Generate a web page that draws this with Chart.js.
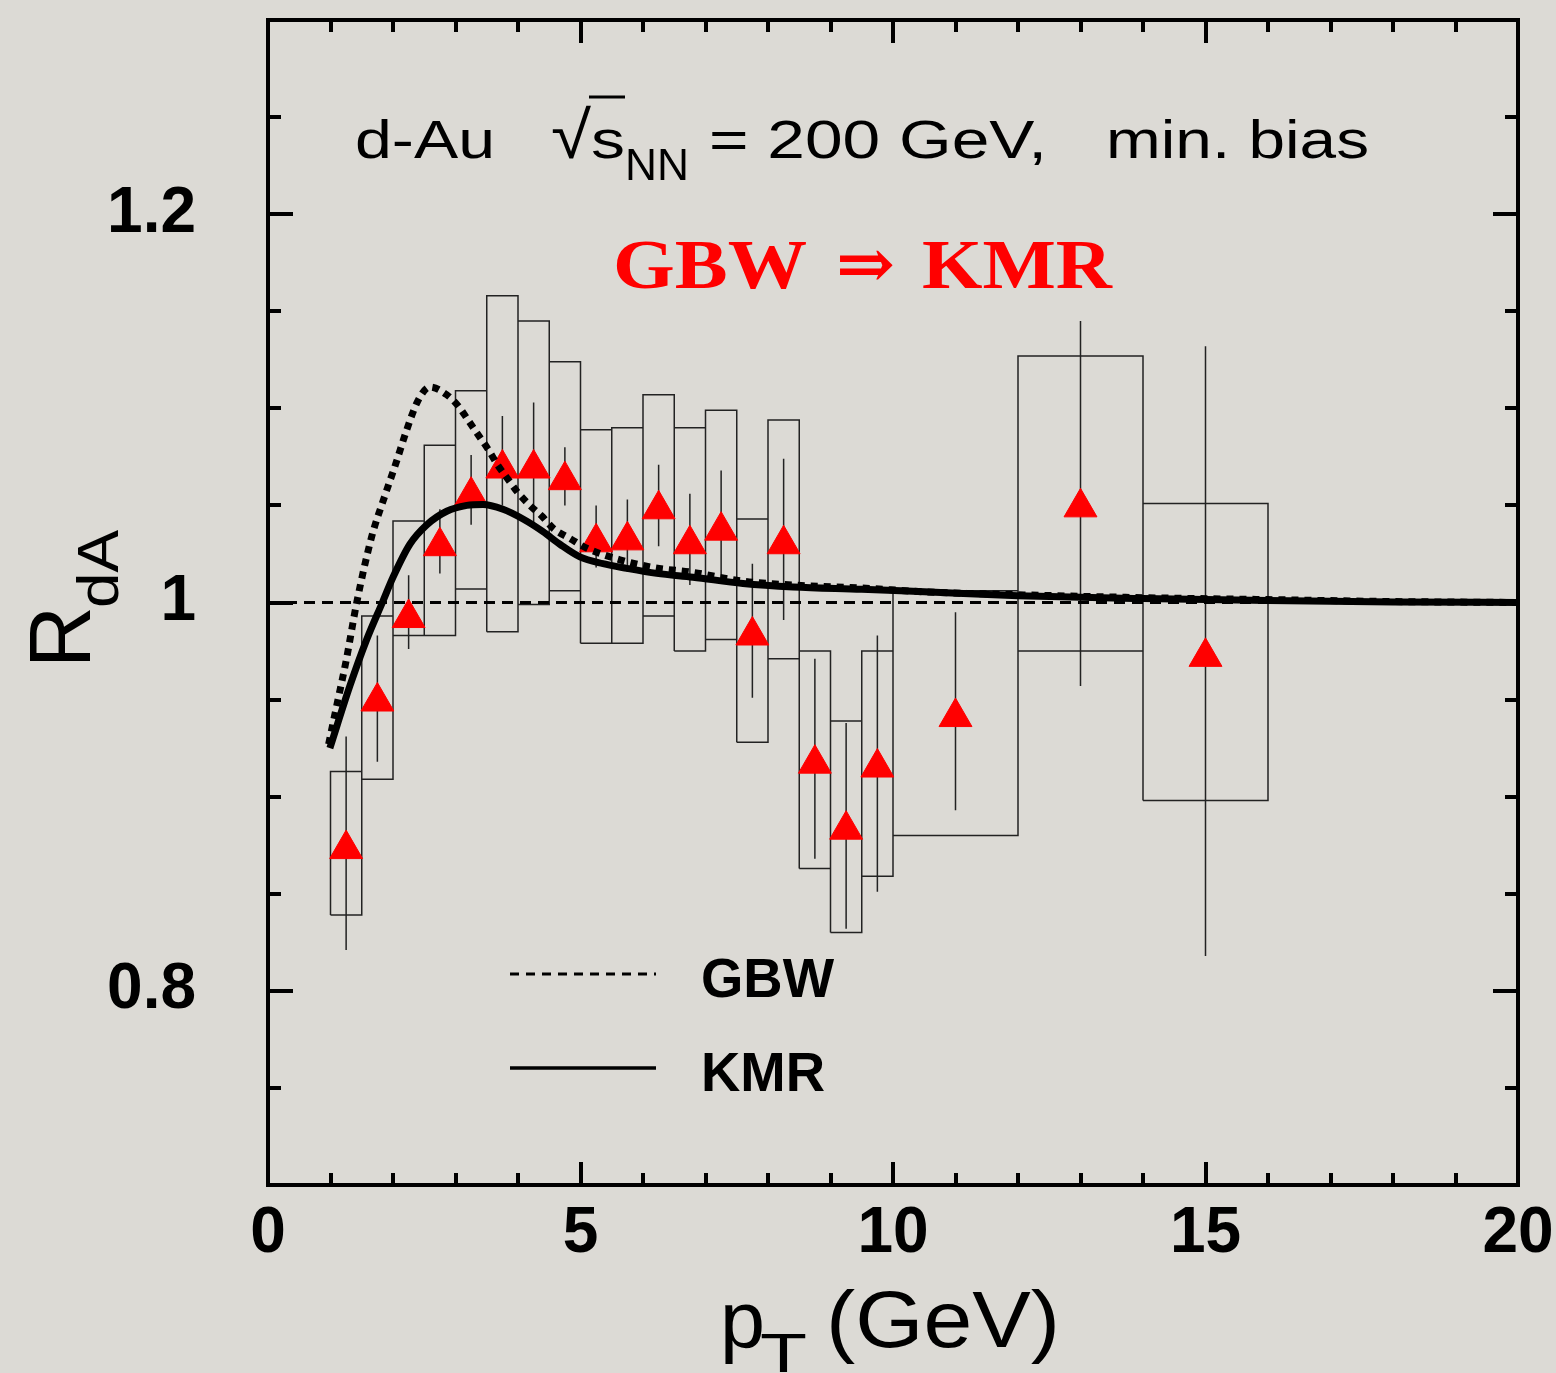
<!DOCTYPE html>
<html>
<head>
<meta charset="utf-8">
<title>RdA d-Au GBW / KMR</title>
<script src="https://cdn.jsdelivr.net/npm/chart.js@4.4.1/dist/chart.umd.min.js"></script>
<style>
  html, body { margin: 0; padding: 0; background: #dcdad5; }
  #wrap { width: 1556px; height: 1373px; }
</style>
</head>
<body>
<div id="wrap"><canvas id="rdaChart" width="1556" height="1373"></canvas></div>
<script>
// * data
const ptCenters = [1.25, 1.75, 2.25, 2.75, 3.25, 3.75, 4.25, 4.75, 5.25, 5.75, 6.25, 6.75, 7.25, 7.75, 8.25, 8.75, 9.25, 9.75, 11, 13, 15];
const binLo = [1.0, 1.5, 2.0, 2.5, 3.0, 3.5, 4.0, 4.5, 5.0, 5.5, 6.0, 6.5, 7.0, 7.5, 8.0, 8.5, 9.0, 9.5, 10, 12, 14];
const binHi = [1.5, 2.0, 2.5, 3.0, 3.5, 4.0, 4.5, 5.0, 5.5, 6.0, 6.5, 7.0, 7.5, 8.0, 8.5, 9.0, 9.5, 10, 12, 14, 16];
const rdA = [0.873, 0.949, 0.992, 1.029, 1.055, 1.069, 1.069, 1.063, 1.031, 1.032, 1.048, 1.030, 1.037, 0.983, 1.030, 0.917, 0.883, 0.915, 0.941, 1.049, 0.972];
const statLo = [0.821, 0.918, 0.976, 1.015, 1.040, 1.050, 1.041, 1.050, 1.018, 1.016, 1.029, 1.009, 1.013, 0.951, 0.991, 0.868, 0.832, 0.851, 0.893, 0.957, 0.818];
const statHi = [0.931, 0.983, 1.014, 1.048, 1.076, 1.096, 1.103, 1.080, 1.050, 1.053, 1.071, 1.056, 1.068, 1.020, 1.074, 0.971, 0.938, 0.983, 0.995, 1.145, 1.132];
const sysLo = [0.839, 0.909, 0.983, 0.983, 1.007, 0.985, 0.999, 1.006, 0.979, 0.979, 0.993, 0.975, 0.981, 0.928, 0.971, 0.863, 0.830, 0.859, 0.880, 0.975, 0.898];
const sysHi = [0.913, 0.993, 1.042, 1.081, 1.109, 1.158, 1.145, 1.124, 1.089, 1.090, 1.107, 1.090, 1.099, 1.043, 1.094, 0.975, 0.939, 0.975, 1.006, 1.127, 1.051];

// * model curves
const gbwPt = [0.97, 1.1, 1.25, 1.42, 1.66, 1.87, 2.05, 2.21, 2.4, 2.59, 2.86, 3.05, 3.2, 3.37, 3.52, 3.67, 3.85, 4.0, 4.19, 4.38, 4.57, 4.83, 5.1, 5.63, 6.17, 6.8, 7.6, 8.4, 9.5, 10.5, 12, 14, 16, 18, 20];
const gbwR = [0.927, 0.947, 0.970, 1.0, 1.034, 1.055, 1.072, 1.088, 1.104, 1.111, 1.107, 1.101, 1.094, 1.086, 1.079, 1.071, 1.063, 1.0565, 1.050, 1.0445, 1.038, 1.033, 1.028, 1.022, 1.018, 1.0155, 1.011, 1.009, 1.0075, 1.0055, 1.004, 1.0025, 1.0015, 1.0005, 1.0];
const kmrPt = [0.99, 1.31, 1.58, 1.83, 2.0, 2.27, 2.54, 2.86, 3.18, 3.44, 3.76, 4.08, 4.4, 4.67, 4.99, 5.36, 5.74, 6.22, 6.8, 7.6, 8.4, 9.5, 10.5, 12, 14, 16, 18, 20];
const kmrR = [0.925, 0.957, 0.981, 1.0, 1.013, 1.030, 1.040, 1.047, 1.050, 1.0505, 1.048, 1.043, 1.0365, 1.030, 1.0235, 1.020, 1.0176, 1.015, 1.013, 1.0098, 1.008, 1.0068, 1.0055, 1.0035, 1.002, 1.001, 1.0003, 1.0];

const refLine = [1, 1];
const xTickLabels = [0, 5, 10, 15, 20];
const yTickLabels = [0.8, 1, 1.2];

window.addEventListener("DOMContentLoaded", () => {
  const SANS = '"Liberation Sans", Arial, sans-serif';
  const SERIF = '"Liberation Serif", "DejaVu Serif", serif';

  // boxes (systematics) as closed outlines, broken by nulls
  const boxPoints = [];
  ptCenters.forEach((_, i) => {
    boxPoints.push(
      { x: binLo[i], y: sysLo[i] },
      { x: binLo[i], y: sysHi[i] },
      { x: binHi[i], y: sysHi[i] },
      { x: binHi[i], y: sysLo[i] },
      { x: binLo[i], y: sysLo[i] },
      { x: binLo[i], y: null }
    );
  });

  // statistical error bars
  const barPoints = [];
  ptCenters.forEach((x, i) => {
    barPoints.push({ x: x, y: statLo[i] }, { x: x, y: statHi[i] }, { x: x, y: null });
  });

  const points = ptCenters.map((x, i) => ({ x: x, y: rdA[i] }));
  const gbw = gbwPt.map((x, i) => ({ x: x, y: gbwR[i] }));
  const kmr = kmrPt.map((x, i) => ({ x: x, y: kmrR[i] }));
  const ref = [{ x: 0, y: refLine[0] }, { x: 20, y: refLine[1] }];

  // helper: draw text squeezed/stretched to a given width
  function fitText(ctx, txt, left, baseline, width, font, color) {
    ctx.save();
    ctx.font = font;
    ctx.fillStyle = color || "#000";
    ctx.textAlign = "left";
    ctx.textBaseline = "alphabetic";
    const w = ctx.measureText(txt).width;
    ctx.translate(left, baseline);
    ctx.scale(width / w, 1);
    ctx.fillText(txt, 0, 0);
    ctx.restore();
  }

  const decor = {
    id: "decor",
    beforeDraw(chart) {
      const ctx = chart.ctx;
      ctx.save();
      ctx.fillStyle = "#dcdad5";
      ctx.fillRect(0, 0, chart.width, chart.height);
      ctx.restore();
    },
    afterDraw(chart) {
      const ctx = chart.ctx;
      const a = chart.chartArea;
      const xs = chart.scales.x;
      const ys = chart.scales.y;

      // * frame
      ctx.save();
      ctx.strokeStyle = "#000";
      ctx.lineWidth = 4;
      ctx.strokeRect(a.left, a.top, a.right - a.left, a.bottom - a.top);

      // * inward ticks on all four sides
      ctx.beginPath();
      for (let k = 1; k < 12; k++) {
        const v = 0.7 + k * 0.05;
        const major = yTickLabels.some((t) => Math.abs(t - v) < 1e-6);
        const len = major ? 25 : 13;
        const py = Math.round(ys.getPixelForValue(v));
        ctx.moveTo(a.left, py);
        ctx.lineTo(a.left + len, py);
        ctx.moveTo(a.right, py);
        ctx.lineTo(a.right - len, py);
      }
      for (let v = 1; v < 20; v++) {
        const len = v % 5 === 0 ? 23 : 12;
        const px = Math.round(xs.getPixelForValue(v));
        ctx.moveTo(px, a.bottom);
        ctx.lineTo(px, a.bottom - len);
        ctx.moveTo(px, a.top);
        ctx.lineTo(px, a.top + len);
      }
      ctx.stroke();
      ctx.restore();

      // * header text
      fitText(ctx, "d-Au", 355, 158, 140, "54px " + SANS);
      fitText(ctx, "\u221A", 551, 158, 40, "66px " + SANS);
      ctx.save();
      ctx.strokeStyle = "#000";
      ctx.lineWidth = 3;
      ctx.beginPath();
      ctx.moveTo(589, 97);
      ctx.lineTo(625, 97);
      ctx.stroke();
      ctx.restore();
      fitText(ctx, "s", 591, 158, 34, "54px " + SANS);
      fitText(ctx, "NN", 625, 180, 64, "45px " + SANS);
      fitText(ctx, "= 200 GeV,", 709, 158, 338, "54px " + SANS);
      fitText(ctx, "min. bias", 1106, 158, 263, "54px " + SANS);

      // * red label
      const red = "#ff0000";
      fitText(ctx, "GBW", 613, 288, 194, "bold 70px " + SERIF, red);
      fitText(ctx, "\u21D2", 836, 288, 59, "bold 70px " + SERIF, red);
      fitText(ctx, "KMR", 922, 288, 190, "bold 70px " + SERIF, red);

      // * legend
      ctx.save();
      ctx.strokeStyle = "#000";
      ctx.lineWidth = 3;
      ctx.setLineDash([9, 7]);
      ctx.beginPath();
      ctx.moveTo(510, 974);
      ctx.lineTo(656, 974);
      ctx.stroke();
      ctx.setLineDash([]);
      ctx.lineWidth = 3.5;
      ctx.beginPath();
      ctx.moveTo(510, 1068);
      ctx.lineTo(656, 1068);
      ctx.stroke();
      ctx.restore();
      fitText(ctx, "GBW", 701, 997, 133, "bold 56px " + SANS);
      fitText(ctx, "KMR", 701, 1091, 124, "bold 56px " + SANS);

      // * x axis title
      fitText(ctx, "p", 720, 1347, 45, "80px " + SANS);
      fitText(ctx, "T", 760, 1372, 47, "56px " + SANS);
      fitText(ctx, "(GeV)", 826, 1347, 234, "80px " + SANS);

      // * y axis title (rotated)
      ctx.save();
      ctx.translate(90, 600);
      ctx.rotate(-Math.PI / 2);
      fitText(ctx, "R", -68, 0, 62, "88px " + SANS);
      fitText(ctx, "dA", -8, 28, 78, "58px " + SANS);
      ctx.restore();
    },
  };

  const tickFont = { family: SANS, size: 64, weight: "bold" };

  const config = {
    type: "scatter",
    data: {
      datasets: [
        {
          label: "GBW",
          data: gbw,
          showLine: true,
          borderColor: "#000",
          borderWidth: 7,
          borderDash: [7, 6],
          borderCapStyle: "butt",
          pointRadius: 0,
          cubicInterpolationMode: "monotone",
          order: 0,
        },
        {
          label: "KMR",
          data: kmr,
          showLine: true,
          borderColor: "#000",
          borderWidth: 7,
          pointRadius: 0,
          cubicInterpolationMode: "monotone",
          order: 0,
        },
        {
          label: "data",
          data: points,
          pointStyle: "triangle",
          pointRadius: 19,
          backgroundColor: "#ff0000",
          borderColor: "#ff0000",
          borderWidth: 1,
          order: 1,
        },
        {
          label: "ref",
          data: ref,
          showLine: true,
          borderColor: "#000",
          borderWidth: 3,
          borderDash: [11, 7],
          pointRadius: 0,
          order: 2,
        },
        {
          label: "stat",
          data: barPoints,
          showLine: true,
          spanGaps: false,
          borderColor: "#222",
          borderWidth: 1.5,
          pointRadius: 0,
          order: 3,
        },
        {
          label: "sys",
          data: boxPoints,
          showLine: true,
          spanGaps: false,
          borderColor: "#222",
          borderWidth: 1.5,
          pointRadius: 0,
          order: 4,
        },
      ],
    },
    options: {
      responsive: false,
      animation: false,
      layout: { padding: { top: 15, right: 38, left: 0, bottom: 0 } },
      plugins: {
        legend: { display: false },
        tooltip: { enabled: false },
      },
      scales: {
        x: {
          type: "linear",
          min: 0,
          max: 20,
          afterBuildTicks: (s) => {
            s.ticks = xTickLabels.map((v) => ({ value: v }));
          },
          afterFit: (s) => {
            s.height = 188;
            s.paddingLeft = 0;
            s.paddingRight = 0;
          },
          grid: { display: false, drawTicks: false },
          border: { display: false },
          ticks: {
            font: tickFont,
            color: "#000",
            padding: 11,
            maxRotation: 0,
            autoSkip: false,
            callback: (v) => String(v),
          },
        },
        y: {
          type: "linear",
          min: 0.7,
          max: 1.3,
          afterBuildTicks: (s) => {
            s.ticks = yTickLabels.map((v) => ({ value: v }));
          },
          afterFit: (s) => {
            s.width = 268;
            s.paddingTop = 0;
            s.paddingBottom = 0;
          },
          grid: { display: false, drawTicks: false },
          border: { display: false },
          ticks: {
            font: tickFont,
            color: "#000",
            padding: 72,
            autoSkip: false,
            callback: (v) => String(v),
          },
        },
      },
    },
    plugins: [decor],
  };

  const ctx = document.getElementById("rdaChart").getContext("2d");
  new Chart(ctx, config);
});
</script>
</body>
</html>
